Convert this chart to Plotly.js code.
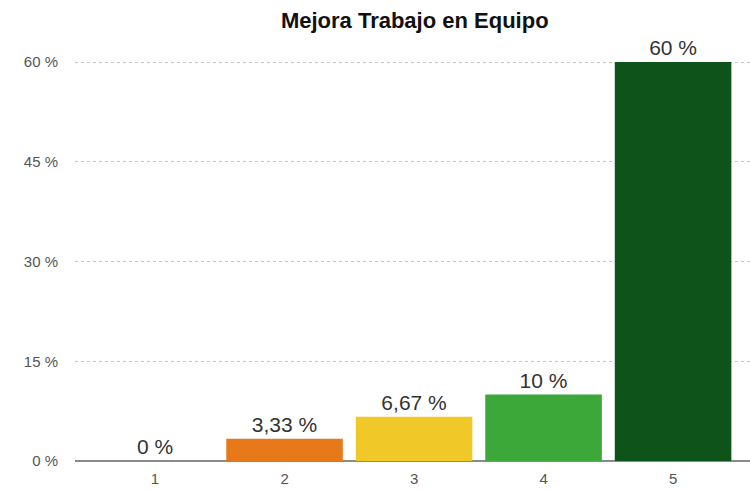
<!DOCTYPE html>
<html>
<head>
<meta charset="utf-8">
<script src="https://cdn.plot.ly/plotly-3.0.1.min.js"></script>
<style>html,body{margin:0;padding:0;background:#fff;}#chart{width:750px;height:490px;}</style>
</head>
<body>
<div id="chart"></div>
<script>
const categories = ["1", "2", "3", "4", "5"];
const values = [0, 3.33, 6.67, 10, 60];
const colors = ["#E8791A", "#E8791A", "#F0C928", "#3DA83A", "#0D531A"];
const tickVals = [0, 15, 30, 45, 60];

const labels = values.map(v => String(v).replace('.', ',') + ' %');

const trace = {
  type: 'bar',
  x: categories,
  y: values,
  width: 0.9,
  marker: { color: colors, line: { width: 0 } },
  text: labels,
  textposition: 'outside',
  cliponaxis: false,
  textfont: { family: 'Liberation Sans, Arial, sans-serif', size: 21, color: '#333' },
  hoverinfo: 'none'
};

const layout = {
  width: 750, height: 490,
  margin: { l: 75, r: 0, t: 60, b: 29, pad: 0 },
  paper_bgcolor: '#fff', plot_bgcolor: '#fff',
  showlegend: false,
  bargap: 0.1,
  title: {
    text: '<b>Mejora Trabajo en Equipo</b>',
    font: { family: 'Liberation Sans, Arial, sans-serif', size: 22, color: '#111' },
    xref: 'container', x: 0.553, xanchor: 'center',
    yref: 'container', y: 0.958, yanchor: 'middle'
  },
  xaxis: {
    type: 'category',
    range: [-0.618, 4.594],
    showgrid: false, zeroline: false,
    showline: false,
    ticks: '', ticklen: 0, ticklabelstandoff: 7,
    tickfont: { family: 'Liberation Sans, Arial, sans-serif', size: 15, color: '#555' },
    fixedrange: true
  },
  yaxis: {
    range: [0, 60.3],
    tickvals: tickVals,
    ticktext: tickVals.map(v => v + ' %'),
    showgrid: true, gridcolor: '#c4c4c4', griddash: 'dot', gridwidth: 1,
    zeroline: true, zerolinecolor: '#8a8a8a', zerolinewidth: 2,
    ticks: '', ticklabelstandoff: 16,
    tickfont: { family: 'Liberation Sans, Arial, sans-serif', size: 15, color: '#555' },
    fixedrange: true
  },
  font: { family: 'Liberation Sans, Arial, sans-serif' }
};

Plotly.newPlot('chart', [trace], layout, { staticPlot: true, displayModeBar: false });
</script>
</body>
</html>
